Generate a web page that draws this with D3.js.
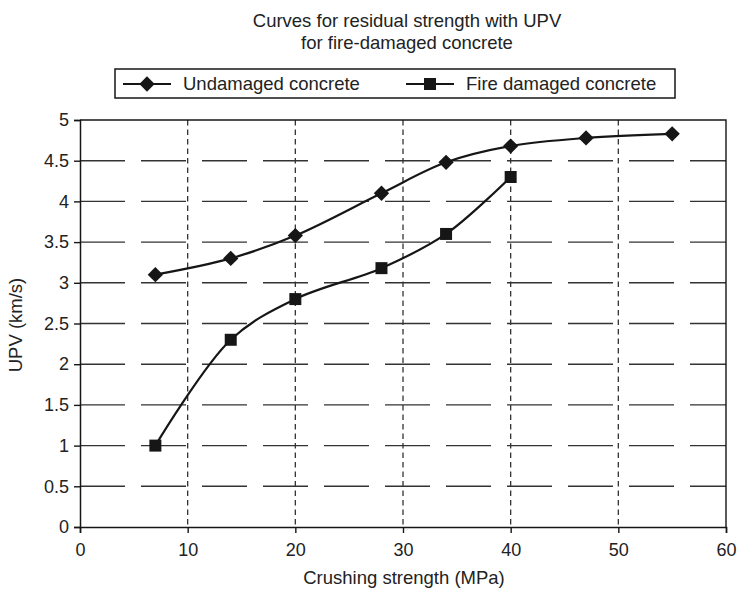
<!DOCTYPE html>
<html>
<head>
<meta charset="utf-8">
<script src="https://cdn.jsdelivr.net/npm/d3@7"></script>
<style>
  html, body { margin: 0; padding: 0; background: #fff; }
  svg { display: block; }
  text { font-family: "Liberation Sans", Arial, Helvetica, sans-serif; fill: #222; }
</style>
</head>
<body>
<svg id="chart" width="739" height="589"></svg>
<script>
// ---- data ----
const titleLines = ["Curves for residual strength with UPV", "for fire-damaged concrete"];
const xLabel = "Crushing strength (MPa)";
const yLabel = "UPV (km/s)";
const seriesNames = ["Undamaged concrete", "Fire damaged concrete"];

const strengthUndamaged = [7, 14, 20, 28, 34, 40, 47, 55];
const upvUndamaged      = [3.1, 3.3, 3.58, 4.1, 4.48, 4.68, 4.78, 4.83];

const strengthFire = [7, 14, 20, 28, 34, 40];
const upvFire      = [1.0, 2.3, 2.8, 3.18, 3.6, 4.3];

const xTicks = [0, 10, 20, 30, 40, 50, 60];
const yTicks = [0, 0.5, 1, 1.5, 2, 2.5, 3, 3.5, 4, 4.5, 5];

// ---- layout ----
const svg = d3.select("#chart");
const pLeft = 80, pRight = 726, pTop = 120, pBottom = 527;
const x = d3.scaleLinear().domain([0, 60]).range([pLeft, pRight]);
const y = d3.scaleLinear().domain([0, 5]).range([pBottom, pTop]);
const ink = "#161616";

// title
svg.append("g").selectAll("text").data(titleLines).join("text")
  .attr("x", 407).attr("y", (d, i) => 27 + i * 22)
  .attr("text-anchor", "middle").style("font-size", "18.5px").text(d => d);

// horizontal grid (long dashes)
svg.append("g").selectAll("line").data(yTicks.filter(v => v > 0 && v < 5)).join("line")
  .attr("x1", pLeft).attr("x2", pRight)
  .attr("y1", d => y(d)).attr("y2", d => y(d))
  .attr("stroke", "#333").attr("stroke-width", 1.4)
  .attr("stroke-dasharray", "45,16");

// vertical grid (short dashes)
svg.append("g").selectAll("line").data(xTicks.filter(v => v > 0 && v < 60)).join("line")
  .attr("x1", d => x(d)).attr("x2", d => x(d))
  .attr("y1", pTop).attr("y2", pBottom)
  .attr("stroke", "#333").attr("stroke-width", 1.3)
  .attr("stroke-dasharray", "5.5,4");

// plot frame top/right
svg.append("path")
  .attr("d", `M${pLeft},${pTop}H${pRight}V${pBottom}`)
  .attr("fill", "none").attr("stroke", ink).attr("stroke-width", 1.4);

// axes
const xAxis = d3.axisBottom(x).tickValues(xTicks).tickSize(6).tickPadding(6).tickFormat(d3.format("d"));
const yAxis = d3.axisLeft(y).tickValues(yTicks).tickSize(6).tickPadding(5).tickFormat(d => String(d));

const gx = svg.append("g").attr("transform", `translate(0,${pBottom})`).call(xAxis);
const gy = svg.append("g").attr("transform", `translate(${pLeft},0)`).call(yAxis);
[gx, gy].forEach(g => {
  g.select(".domain").attr("stroke", ink).attr("stroke-width", 1.5);
  g.selectAll(".tick line").attr("stroke", ink).attr("stroke-width", 1.4);
  g.selectAll(".tick text").style("font-size", "18px").style("font-family", "'Liberation Sans', Arial, sans-serif").attr("fill", "#222");
});
gx.selectAll(".tick text").attr("dy", "0.95em");

// axis titles
svg.append("text").attr("x", 404).attr("y", 584).attr("text-anchor", "middle")
  .style("font-size", "18.5px").text(xLabel);
svg.append("text").attr("transform", "translate(22,325) rotate(-90)").attr("text-anchor", "middle")
  .style("font-size", "18.5px").text(yLabel);

// series
const line = d3.line().x(d => x(d[0])).y(d => y(d[1])).curve(d3.curveCatmullRom.alpha(0.5));
const undamaged = strengthUndamaged.map((s, i) => [s, upvUndamaged[i]]);
const fire = strengthFire.map((s, i) => [s, upvFire[i]]);

svg.append("path").datum(undamaged).attr("d", line)
  .attr("fill", "none").attr("stroke", ink).attr("stroke-width", 2.2);
svg.append("path").datum(fire).attr("d", line)
  .attr("fill", "none").attr("stroke", ink).attr("stroke-width", 2.2);

const diamond = d3.symbol().type(d3.symbolDiamond2).size(150);
const square = d3.symbol().type(d3.symbolSquare).size(144);

svg.append("g").selectAll("path").data(undamaged).join("path")
  .attr("transform", d => `translate(${x(d[0])},${y(d[1])})`)
  .attr("d", diamond).attr("fill", ink);
svg.append("g").selectAll("path").data(fire).join("path")
  .attr("transform", d => `translate(${x(d[0])},${y(d[1])})`)
  .attr("d", square).attr("fill", ink);

// legend
const lg = svg.append("g");
lg.append("rect").attr("x", 115).attr("y", 69).attr("width", 560).attr("height", 29)
  .attr("fill", "#fff").attr("stroke", ink).attr("stroke-width", 1.5);
const legendItems = [
  { name: seriesNames[0], x0: 123, sym: diamond },
  { name: seriesNames[1], x0: 406, sym: square }
];
legendItems.forEach(it => {
  lg.append("line").attr("x1", it.x0).attr("x2", it.x0 + 48).attr("y1", 84).attr("y2", 84)
    .attr("stroke", ink).attr("stroke-width", 2);
  lg.append("path").attr("transform", `translate(${it.x0 + 24},84)`).attr("d", it.sym).attr("fill", ink);
  lg.append("text").attr("x", it.x0 + 60).attr("y", 90).style("font-size", "18.5px").text(it.name);
});
</script>
</body>
</html>
